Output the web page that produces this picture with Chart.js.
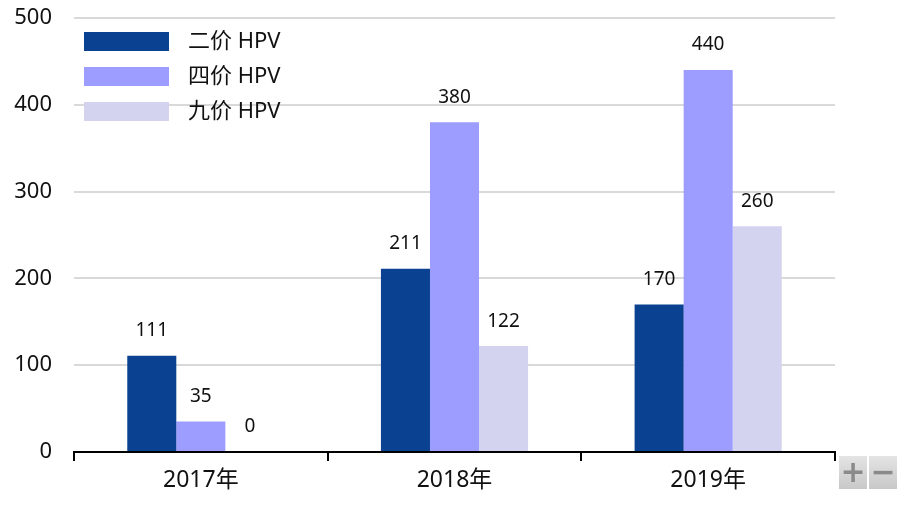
<!DOCTYPE html>
<html>
<head>
<meta charset="utf-8">
<script src="https://cdn.jsdelivr.net/npm/chart.js@4"></script>
<style>
  html, body { margin: 0; padding: 0; background: #fff; }
  #wrap { position: relative; width: 905px; height: 506px; }
  canvas { display: block; }
  .zbtn {
    position: absolute; top: 456px; width: 28px; height: 33px;
    background: linear-gradient(#e4e4e4, #c8c8c8);
    color: #8a8a8a; font: bold 30px "DejaVu Sans", sans-serif;
    text-align: center; line-height: 32px;
  }
</style>
</head>
<body>
<div id="wrap">
  <canvas id="chartHPV" width="905" height="506"></canvas>
  <div class="zbtn" style="left:839px">+</div>
  <div class="zbtn" style="left:869px">−</div>
</div>
<script>
// catégories et séries
const years = ["2017年", "2018年", "2019年"];
const seriesNames = ["二价 HPV", "四价 HPV", "九价 HPV"];
const bivalent = [111, 211, 170];
const quadrivalent = [35, 380, 440];
const ninevalent = [0, 122, 260];
const yTicks = [0, 100, 200, 300, 400, 500];

const colors = ["#0b4191", "#9d9dff", "#d3d3f0"];
const FONT = '"Noto Sans", "Noto Sans CJK SC", sans-serif';

// valeurs au-dessus des barres
const valueLabels = {
  id: "valueLabels",
  afterDatasetsDraw(chart) {
    const ctx = chart.ctx;
    ctx.save();
    ctx.font = "19px " + FONT;
    ctx.fillStyle = "#111";
    ctx.textAlign = "center";
    ctx.textBaseline = "middle";
    chart.data.datasets.forEach((ds, i) => {
      chart.getDatasetMeta(i).data.forEach((bar, j) => {
        ctx.fillText(String(ds.data[j]), bar.x, bar.y - 25);
      });
    });
    ctx.restore();
  }
};

// légende dans la zone du graphique, en haut à gauche
const insideLegend = {
  id: "insideLegend",
  afterDraw(chart) {
    const ctx = chart.ctx;
    const left = chart.chartArea.left + 10;
    ctx.save();
    ctx.font = "22px " + FONT;
    ctx.textBaseline = "middle";
    chart.data.datasets.forEach((ds, i) => {
      const y = 32 + i * 35;
      ctx.fillStyle = ds.backgroundColor;
      ctx.fillRect(left, y, 85, 19);
      ctx.fillStyle = "#111";
      ctx.fillText(ds.label, left + 104, y + 10);
    });
    ctx.restore();
  }
};

new Chart(document.getElementById("chartHPV").getContext("2d"), {
  type: "bar",
  data: {
    labels: years,
    datasets: [
      { label: seriesNames[0], data: bivalent, backgroundColor: colors[0] },
      { label: seriesNames[1], data: quadrivalent, backgroundColor: colors[1] },
      { label: seriesNames[2], data: ninevalent, backgroundColor: colors[2] }
    ]
  },
  options: {
    responsive: false,
    animation: false,
    layout: { padding: { top: 18, right: 70, left: 0, bottom: 0 } },
    datasets: { bar: { categoryPercentage: 0.58, barPercentage: 1 } },
    plugins: {
      legend: { display: false },
      tooltip: { enabled: false }
    },
    scales: {
      x: {
        grid: {
          offset: true,
          drawOnChartArea: false,
          color: "#000",
          lineWidth: 2,
          tickLength: 9
        },
        border: { color: "#000", width: 2 },
        ticks: { color: "#111", font: { size: 23, family: FONT }, padding: 6 },
        afterFit(scale) { scale.height = 54; }
      },
      y: {
        min: 0,
        max: 500,
        afterBuildTicks(scale) { scale.ticks = yTicks.map(v => ({ value: v })); },
        grid: { color: "#d9d9d9", lineWidth: 2, drawTicks: false },
        border: { display: false },
        ticks: { color: "#111", font: { size: 22, family: FONT }, padding: 22 },
        // largeur fixe de l'axe, sans marge auto en haut
        afterFit(scale) { scale.width = 74; scale.paddingTop = 0; scale.paddingBottom = 0; }
      }
    }
  },
  plugins: [valueLabels, insideLegend]
});
</script>
</body>
</html>
